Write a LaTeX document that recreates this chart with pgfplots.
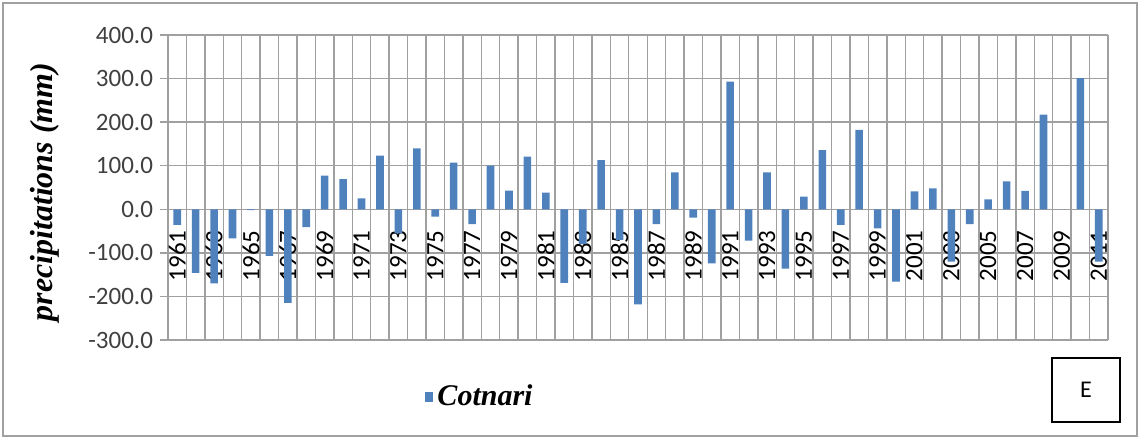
\documentclass[border=0pt]{standalone}
\usepackage{fontspec}
\setmainfont{Carlito}
\newfontfamily\timesfont{Liberation Serif}
\usepackage{pgfplots}
\usepackage{pgfplotstable}
\pgfplotsset{compat=1.18}
\definecolor{barblue}{HTML}{4F81BD}
\definecolor{gridgray}{HTML}{A0A0A0}
\definecolor{ticktext}{HTML}{404040}

% deviation of yearly precipitation, Cotnari (index 0 = 1961)
\pgfplotstableread{
yr  dev
0   -36
1   -146
2   -170
3   -67
4   -2
5   -107
6   -215
7   -41
8   77
9   69
10  25
11  123
12  -55
13  140
14  -17
15  107
16  -34
17  100
18  43
19  121
20  38
21  -169
22  -80
23  113
24  -70
25  -218
26  -34
27  85
28  -19
29  -124
30  293
31  -72
32  85
33  -136
34  29
35  136
36  -36
37  182
38  -44
39  -166
40  41
41  48
42  -120
43  -34
44  23
45  64
46  42
47  217
48  0
49  301
50  -120
}\cotnari

\begin{document}
\begin{tikzpicture}
\useasboundingbox (-84pt,-49.5pt) rectangle (486pt,170pt);
\draw[gridgray, line width=1pt] (-82.5pt,-48pt) rectangle (484.5pt,168.5pt);
\begin{axis}[
  at={(0pt,0pt)}, anchor=south west,
  scale only axis, width=470pt, height=152.5pt,
  xmin=-0.5, xmax=50.5, ymin=-300, ymax=400,
  enlargelimits=false,
  axis x line*=middle, axis y line*=left,
  hide obscured x ticks=false, hide obscured y ticks=false,
  axis line style={gridgray, line width=0.7pt},
  xtick={0,2,...,50},
  xticklabels={1961,1963,1965,1967,1969,1971,1973,1975,1977,1979,1981,1983,1985,1987,1989,1991,1993,1995,1997,1999,2001,2003,2005,2007,2009,2011},
  minor xtick={-0.5,0.5,...,50.5},
  xmajorgrids=false, xminorgrids=true, ymajorgrids=true,
  grid style={gridgray, line width=0.7pt},
  minor grid style={gridgray, line width=0.7pt},
  x tick style={draw=none},
  ytick={-300,-200,...,400},
  yticklabels={-300.0,-200.0,-100.0,0.0,100.0,200.0,300.0,400.0},
  y tick style={gridgray, line width=0.7pt},
  tick align=outside, major tick length=4pt,
  xticklabel style={rotate=90, anchor=east, font=\fontsize{12.5}{13}\selectfont},
  xticklabel shift=3pt,
  yticklabel style={font=\fontsize{12.5}{13}\selectfont, text=ticktext},
  ylabel={precipitations (mm)},
  every axis y label/.style={at={(axis description cs:-0.131,0.485)}, rotate=90, anchor=center,
    font=\timesfont\bfseries\itshape\fontsize{16}{18}\selectfont},
  legend style={at={(axis description cs:0.333,-0.187)}, anchor=center, draw=none, fill=none,
    font=\timesfont\bfseries\itshape\fontsize{15}{17}\selectfont},
  ybar, bar width=3.8pt,
  legend image code/.code={\fill[barblue] (0pt,-2.5pt) rectangle (4pt,2.5pt);},
]
\addplot[fill=barblue, draw=none] table[x=yr, y=dev] {\cotnari};
\addlegendentry{Cotnari}
\end{axis}
\draw[black, line width=0.75pt] (442pt,-41pt) rectangle (476pt,-9pt);
\node[font=\fontsize{12}{14}\selectfont] at (459pt,-25pt) {E};
\end{tikzpicture}
\end{document}
